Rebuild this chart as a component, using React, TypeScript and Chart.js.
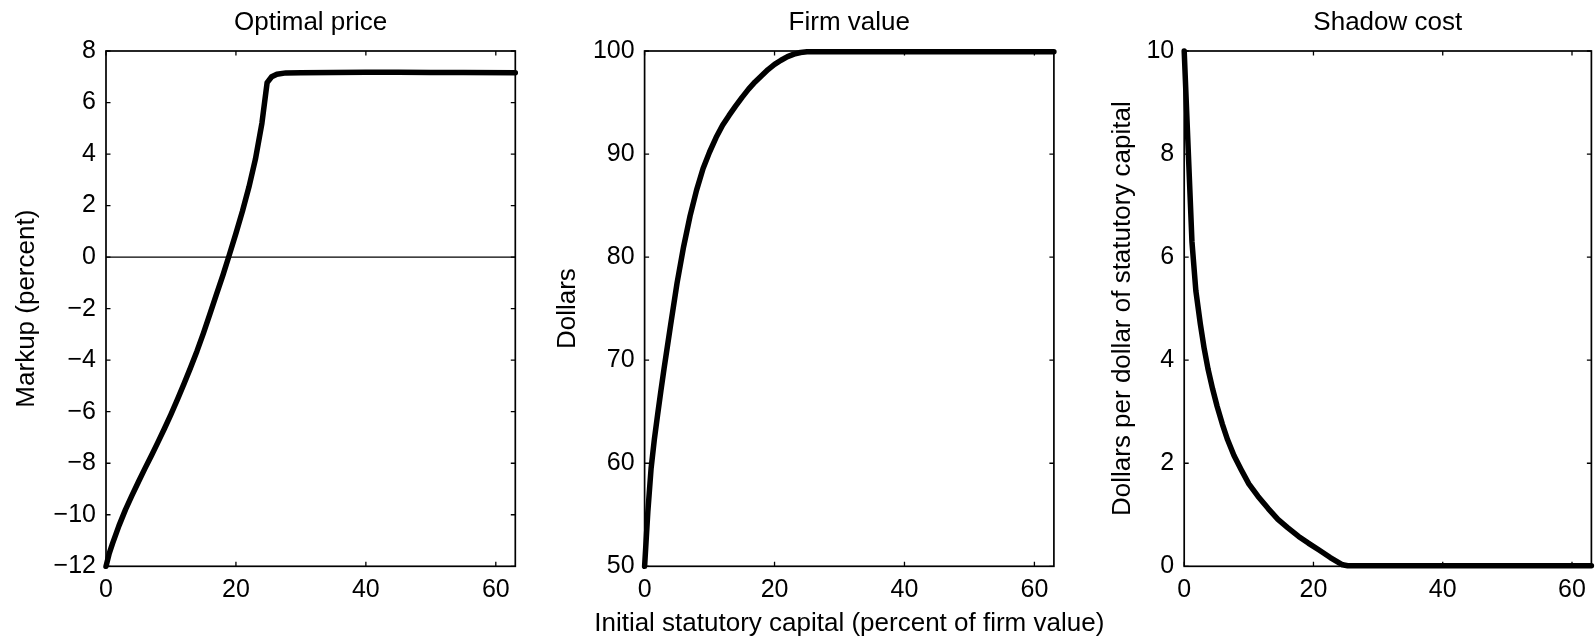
import React, { useEffect, useRef } from "react";
import { Chart, registerables } from "chart.js";

Chart.register(...registerables);

const FONT = '"Liberation Sans", Arial, Helvetica, sans-serif';
const W = 1595;
const H = 639;

// ---- data ----
const capitalPrice = [0, 0.5, 1, 2, 3, 4, 5, 6, 7, 8, 9, 10, 11, 12, 13, 14, 15, 16, 17, 18, 19, 20, 21, 22, 23, 24, 24.8, 25.5, 26.3, 27.7, 30, 35, 40, 45, 50, 55, 63];
const markupPrice = [-12, -11.5, -11.12, -10.42, -9.8, -9.25, -8.72, -8.2, -7.7, -7.18, -6.65, -6.1, -5.52, -4.92, -4.3, -3.65, -2.95, -2.2, -1.45, -0.7, 0.1, 0.92, 1.78, 2.72, 3.8, 5.2, 6.77, 7.0, 7.1, 7.15, 7.16, 7.17, 7.18, 7.18, 7.17, 7.17, 7.16];

const capitalValue = [0, 0.5, 1, 1.5, 2, 2.5, 3, 3.5, 4, 5, 6, 7, 8, 9, 10, 11, 12, 13, 14, 15, 16, 17, 18, 19, 20, 21, 22, 23, 24, 25, 26, 30, 40, 50, 63];
const firmValue = [50, 55.3, 59.5, 62.3, 64.7, 67.0, 69.2, 71.3, 73.4, 77.5, 81.0, 84.0, 86.5, 88.6, 90.2, 91.6, 92.8, 93.75, 94.65, 95.5, 96.3, 97.0, 97.6, 98.2, 98.7, 99.1, 99.45, 99.7, 99.85, 99.92, 99.92, 99.92, 99.92, 99.92, 99.92];

const capitalShadow = [0, 1.2, 1.8, 2.5, 3.1, 3.7, 4.4, 5.1, 5.9, 6.7, 7.7, 8.8, 10, 11.4, 13, 14.5, 16, 17.7, 19.2, 20.8, 22.6, 24.5, 25.3, 30, 40, 50, 63];
const shadowCost = [10, 6.3, 5.35, 4.7, 4.22, 3.82, 3.44, 3.1, 2.76, 2.46, 2.15, 1.88, 1.6, 1.36, 1.12, 0.91, 0.75, 0.58, 0.45, 0.32, 0.17, 0.03, 0.01, 0.01, 0.01, 0.01, 0.01];

const xTicks = [0, 20, 40, 60];
const markupTicks = [-12, -10, -8, -6, -4, -2, 0, 2, 4, 6, 8];
const valueTicks = [50, 60, 70, 80, 90, 100];
const shadowTicks = [0, 2, 4, 6, 8, 10];

const titles = ["Optimal price", "Firm value", "Shadow cost"];
const yLabels = ["Markup (percent)", "Dollars", "Dollars per dollar of statutory capital"];
const xLabel = "Initial statutory capital (percent of firm value)";

// ---- layout ----
const TOP = 51;
const BOTTOM = 566.3;
const X_MAX = 63;

type Panel = {
  left: number;
  right: number;
  yOff: number;
  yMin: number;
  yMax: number;
  xs: number[];
  ys: number[];
  yTicks: number[];
  title: string;
  yLabel: string;
  zero: boolean;
  xLabel: boolean;
};

const panels: Panel[] = [
  { left: 106, right: 515.3, yOff: 71.6, yMin: -12, yMax: 8, xs: capitalPrice, ys: markupPrice, yTicks: markupTicks, title: titles[0], yLabel: yLabels[0], zero: true, xLabel: false },
  { left: 644.6, right: 1053.9, yOff: 69.8, yMin: 50, yMax: 100, xs: capitalValue, ys: firmValue, yTicks: valueTicks, title: titles[1], yLabel: yLabels[1], zero: false, xLabel: true },
  { left: 1184.2, right: 1593, yOff: 54.2, yMin: 0, yMax: 10, xs: capitalShadow, ys: shadowCost, yTicks: shadowTicks, title: titles[2], yLabel: yLabels[2], zero: false, xLabel: false },
];

const fmt = (v: number | string) => String(v).replace("-", "\u2212");

function makeFrame(p: Panel, idx: number) {
  return {
    id: "frame" + idx,
    beforeDatasetsDraw(chart: any) {
      if (!p.zero) return;
      const { ctx, chartArea } = chart;
      const y0 = chart.scales.y.getPixelForValue(0);
      ctx.save();
      ctx.strokeStyle = "#000";
      ctx.lineWidth = 1.3;
      ctx.beginPath();
      ctx.moveTo(chartArea.left, y0);
      ctx.lineTo(chartArea.right, y0);
      ctx.stroke();
      ctx.restore();
    },
    afterDatasetsDraw(chart: any) {
      const { ctx, chartArea } = chart;
      const { left, right, top, bottom } = chartArea;
      const xs = chart.scales.x;
      const ys = chart.scales.y;
      const TL = 4.5;
      ctx.save();
      ctx.strokeStyle = "#000";
      ctx.lineWidth = 1.3;
      ctx.beginPath();
      xTicks.forEach((v) => {
        const px = xs.getPixelForValue(v);
        ctx.moveTo(px, bottom);
        ctx.lineTo(px, bottom - TL);
        ctx.moveTo(px, top);
        ctx.lineTo(px, top + TL);
      });
      p.yTicks.forEach((v) => {
        const py = ys.getPixelForValue(v);
        ctx.moveTo(left, py);
        ctx.lineTo(left + TL, py);
        ctx.moveTo(right, py);
        ctx.lineTo(right - TL, py);
      });
      ctx.stroke();
      ctx.lineWidth = 1.7;
      ctx.strokeRect(left, top, right - left, bottom - top);
      ctx.restore();
    },
    afterDraw(chart: any) {
      const { ctx, chartArea } = chart;
      const { left, right, top, bottom } = chartArea;
      ctx.save();
      ctx.fillStyle = "#000";
      ctx.font = `26px ${FONT}`;
      ctx.textAlign = "center";
      ctx.textBaseline = "alphabetic";
      ctx.fillText(p.title, (left + right) / 2, top - 21);
      if (p.xLabel) {
        ctx.fillText(xLabel, (left + right) / 2, bottom + 65);
      }
      ctx.translate(left - p.yOff, (top + bottom) / 2);
      ctx.rotate(-Math.PI / 2);
      ctx.fillText(p.yLabel, 0, 0);
      ctx.restore();
    },
  };
}

function PanelChart({ p, idx }: { p: Panel; idx: number }) {
  const ref = useRef<HTMLCanvasElement | null>(null);
  useEffect(() => {
    if (!ref.current) return;
    const chart = new Chart(ref.current, {
      type: "line",
      data: {
        datasets: [
          {
            data: p.xs.map((x, i) => ({ x, y: p.ys[i] })),
            borderColor: "#000",
            borderWidth: 5.5,
            pointRadius: 0,
            tension: 0,
            clip: false as any,
            borderJoinStyle: "round",
            borderCapStyle: "round",
          } as any,
        ],
      },
      options: {
        responsive: false,
        animation: false,
        devicePixelRatio: 1,
        events: [],
        layout: { padding: { top: TOP, right: W - p.right, left: 0, bottom: 0 } },
        plugins: { legend: { display: false }, tooltip: { enabled: false }, title: { display: false } },
        scales: {
          x: {
            type: "linear",
            min: 0,
            max: X_MAX,
            afterBuildTicks: (s: any) => {
              s.ticks = xTicks.map((v) => ({ value: v }));
            },
            afterFit: (s: any) => {
              s.height = H - BOTTOM;
            },
            grid: { display: false, drawTicks: false },
            border: { display: false },
            ticks: {
              padding: 9,
              color: "#000",
              font: { family: FONT, size: 25 },
              maxRotation: 0,
              autoSkip: false,
              callback: (v: any) => fmt(v),
            },
          },
          y: {
            type: "linear",
            min: p.yMin,
            max: p.yMax,
            afterBuildTicks: (s: any) => {
              s.ticks = p.yTicks.map((v) => ({ value: v }));
            },
            afterFit: (s: any) => {
              s.width = p.left;
            },
            grid: { display: false, drawTicks: false },
            border: { display: false },
            ticks: {
              padding: 10,
              color: "#000",
              font: { family: FONT, size: 25 },
              autoSkip: false,
              callback: (v: any) => fmt(v),
            },
          },
        },
      } as any,
      plugins: [makeFrame(p, idx)],
    });
    return () => chart.destroy();
  }, [p, idx]);
  return (
    <canvas
      ref={ref}
      width={W}
      height={H}
      style={{ position: "absolute", left: 0, top: 0, width: W, height: H }}
    />
  );
}

export default function App() {
  return (
    <div style={{ position: "fixed", left: 0, top: 0, width: W, height: H, background: "#fff", overflow: "hidden" }}>
      {panels.map((p, i) => (
        <PanelChart key={i} p={p} idx={i} />
      ))}
    </div>
  );
}
